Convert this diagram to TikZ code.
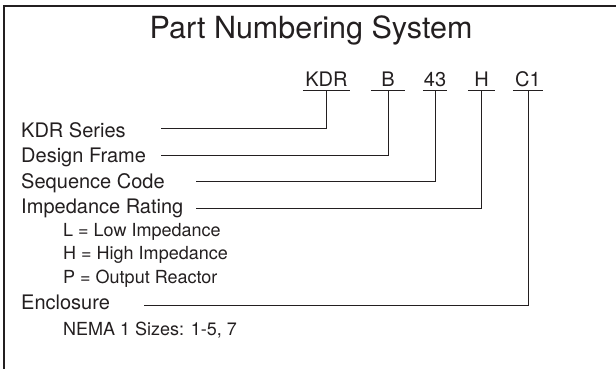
\documentclass[tikz,border=0pt]{standalone}
\usepackage{fontspec}
\setmainfont{TeX Gyre Heros}
\usetikzlibrary{positioning,calc}
\definecolor{ink}{HTML}{231F20}

\begin{document}
\begin{tikzpicture}[x=1pt,y=-1pt,
    partcode/.style={anchor=base,inner xsep=0pt,inner ysep=4pt,text=ink,font=\fontsize{20}{24}\selectfont},
    field/.style={anchor=base west,inner sep=0pt,text=ink,font=\fontsize{20}{24}\selectfont},
    choice/.style={anchor=base west,inner sep=0pt,text=ink,font=\fontsize{18}{21}\selectfont},
    lead/.style={draw=ink,line width=0.9pt}]
    \useasboundingbox (0,0) rectangle (616,369);
    % open frame, top and left only
    \draw[ink,line width=2.4pt] (616,6) -- (4,6) -- (4,369);
    \node[anchor=base,text=ink,font=\fontsize{30.5}{36}\selectfont] (title) at (311,39) {Part Numbering System};
    % the code fields, each underlined
    \foreach \name/\x/\w/\txt in {kdr/326.5/47/KDR, b/388/34/B, n43/435/24/43, h/481.5/27/H, c1/528/30/C1} {
        \node[partcode,minimum width=\w pt] (\name) at (\x,86) {\txt};
        \draw[lead] (\name.south west) -- (\name.south east);
    }
    \node[field] (series) at (21,137) {KDR Series};
    \node[field] (frame) at (21,162) {Design Frame};
    \node[field] (sequence) at (21,188) {Sequence Code};
    \node[field] (rating) at (21,213) {Impedance Rating};
    \node[choice] (low) at (63,236) {L = Low Impedance};
    \node[choice] (high) at (63,259) {H = High Impedance};
    \node[choice] (output) at (63,283) {P = Output Reactor};
    \node[field] (enclosure) at (21,309) {Enclosure};
    \node[choice] (nema) at (63,335) {NEMA 1 Sizes: 1-5, 7};
    % leader lines from each description up to its code
    \foreach \from/\to/\x/\y in {series/kdr/161/128, frame/b/161/155, sequence/n43/196/181, rating/h/196/208, enclosure/c1/144/305} {
        \coordinate (\from-end) at (\x,\y);
        \draw[lead] (\from-end) -| (\to.south);
    }
\end{tikzpicture}
\end{document}
